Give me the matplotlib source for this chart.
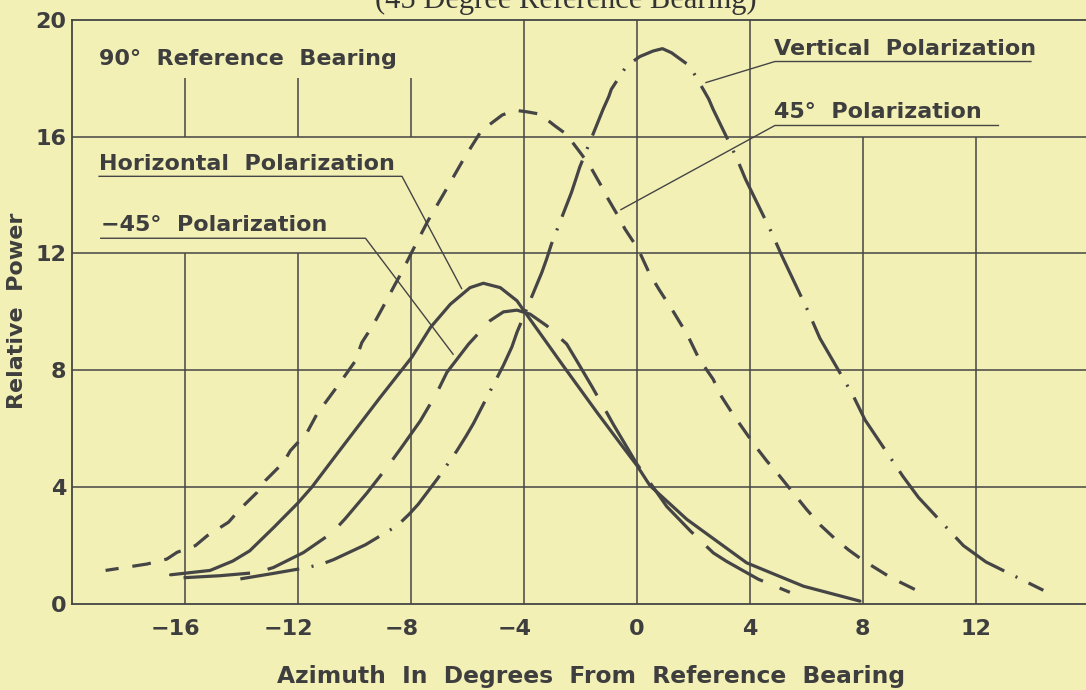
import matplotlib
matplotlib.use("Agg")
import matplotlib.pyplot as plt
import matplotlib.transforms as mtransforms

plt.rcParams["font.family"] = ["DejaVu Sans"]
plt.rcParams["lines.scale_dashes"] = False

# ---- data ----
# Horizontal polarization (solid)
horiz_x = [-16.5, -15.1, -14.3, -13.7, -12.85, -12.0, -11.5, -10.6, -9.1, -7.96,
           -7.3, -6.6, -5.9, -5.43, -4.83, -4.24, -3.95, -3.3, -2.6, -2.0,
           -1.4, -0.47, 0.0, 0.47, 1.77, 3.89, 5.9, 7.9]
horiz_y = [1.0, 1.15, 1.47, 1.82, 2.62, 3.45, 4.0, 5.15, 7.05, 8.45,
           9.47, 10.26, 10.83, 10.98, 10.83, 10.38, 9.98, 9.1, 8.15, 7.35,
           6.55, 5.35, 4.75, 4.05, 2.9, 1.41, 0.61, 0.1]

# -45 deg polarization (long dash)
neg45_x = [-16.04, -14.74, -13.43, -12.86, -11.8, -10.78, -10.32, -9.55, -8.8,
           -8.37, -7.66, -7.07, -6.72, -5.95, -5.19, -4.72, -4.24, -3.77, -3.18,
           -2.48, -2.12, -1.59, -1.06, -0.83, 0.0, 1.06, 1.9, 2.71, 3.18, 4.3, 5.42]
neg45_y = [0.9, 0.97, 1.08, 1.25, 1.76, 2.44, 2.92, 3.8, 4.73,
           5.3, 6.27, 7.24, 7.93, 8.9, 9.7, 10.0, 10.06, 9.92, 9.52,
           8.9, 8.32, 7.45, 6.55, 6.15, 4.8, 3.34, 2.5, 1.75, 1.46, 0.85, 0.4]

# Vertical polarization (dash-dot)
vert_x = [-14.03, -12.85, -11.66, -11.14, -10.73, -9.6, -8.48, -8.05, -7.73, -7.06,
          -6.37, -6.04, -5.78, -4.72, -4.42, -4.24, -3.36, -3.19, -3.02, -2.31,
          -2.17, -2.02, -1.19, -0.99, -0.9, -0.36, 0.11, 0.58, 0.91, 1.23, 1.87,
          2.35, 2.55, 2.7, 3.53, 3.85, 4.77, 5.14, 6.06, 6.48, 7.65, 8.08, 9.42,
          9.97, 11.56, 12.36, 14.39]
vert_y = [0.86, 1.05, 1.25, 1.37, 1.52, 2.03, 2.68, 3.08, 3.42, 4.28,
          5.24, 5.75, 6.18, 8.17, 8.8, 9.3, 11.35, 11.81, 12.32, 14.09,
          14.5, 14.95, 16.94, 17.37, 17.62, 18.42, 18.74, 18.93, 19.01, 18.87, 18.42,
          17.62, 17.28, 16.94, 15.28, 14.54, 12.72, 11.91, 10.03, 9.1, 7.15, 6.3, 4.37,
          3.65, 2.0, 1.44, 0.47]

# 45 deg polarization (dashed)
pos45_x = [-18.8, -17.86, -17.33, -16.63, -16.27, -15.62, -15.2, -14.45, -14.03,
           -13.44, -13.15, -12.5, -12.26, -11.67, -11.32, -10.5, -9.96, -9.73,
           -9.32, -9.02, -8.55, -8.31, -7.96, -7.4, -6.72, -6.11, -5.5, -4.76,
           -4.3, -3.9, -3.43, -2.9, -2.49, -1.96, -1.66, -1.19, -1.01, -0.6, -0.42,
           0.05, 0.46, 0.8, 1.3, 1.8, 2.2, 2.7, 3.0, 3.4, 3.8, 4.2, 4.6, 5.0, 5.5,
           6.0, 6.5, 7.0, 7.5, 8.0, 8.5, 9.0, 9.84]
pos45_y = [1.15, 1.29, 1.37, 1.54, 1.77, 2.0, 2.34, 2.8, 3.26,
           3.82, 4.22, 4.85, 5.25, 5.87, 6.5, 7.58, 8.32, 8.95,
           9.57, 10.1, 10.95, 11.37, 12.05, 13.1, 14.23, 15.26, 16.2, 16.74,
           16.9, 16.85, 16.77, 16.37, 16.08, 15.4, 15.0, 14.2, 13.86, 13.18, 12.84,
           12.15, 11.29, 10.75, 10.0, 9.2, 8.4, 7.7, 7.1, 6.5, 5.95, 5.4, 4.9, 4.45,
           3.85, 3.25, 2.7, 2.25, 1.85, 1.5, 1.2, 0.9, 0.5]

x_ticks = [-16, -12, -8, -4, 0, 4, 8, 12]
x_tick_labels = ["\u221216", "\u221212", "\u22128", "\u22124", "0", "4", "8", "12"]
y_ticks = [0, 4, 8, 12, 16, 20]
y_tick_labels = ["0", "4", "8", "12", "16", "20"]

# labels: (text, x, baseline y, underline x-range, underline y, leader end)
labels = [
    ("Horizontal  Polarization", -19.03, 14.86, (-19.03, -8.31), 14.64, (-6.2, 10.8)),
    ("\u221245\u00b0  Polarization", -18.97, 12.76, (-18.97, -9.6), 12.52, (-6.5, 8.55)),
    ("Vertical  Polarization", 4.85, 18.8, (13.95, 4.89), 18.57, (2.45, 17.85)),
    ("45\u00b0  Polarization", 4.85, 16.62, (12.8, 4.89), 16.38, (-0.56, 13.5)),
]

BG = "#f3f0b6"
INK = "#454545"
TXT = "#3e3e3e"

fig = plt.figure(figsize=(10.86, 6.90), dpi=100)
fig.patch.set_facecolor(BG)
ax = fig.add_axes([0.066, 0.1246, 0.934, 0.8468])
ax.set_facecolor(BG)
ax.set_xlim(-20, 15.9)
ax.set_ylim(0, 20)

# grid drawn piecewise, like the printed chart
grid_kw = dict(color=INK, lw=1.1, zorder=1)
ax.vlines([-4, 0, 4], 0, 20, **grid_kw)
ax.vlines([-16, -12, -8], 0, 12, **grid_kw)
ax.vlines([-16, -12, -8], 16, 18, **grid_kw)
ax.vlines([8, 12], 0, 16, **grid_kw)
ax.hlines([4, 8, 12, 16], -20, 15.9, **grid_kw)

for side in ["left", "bottom", "top"]:
    ax.spines[side].set_color(INK)
    ax.spines[side].set_linewidth(1.3)
ax.spines["right"].set_visible(False)

# curves
cw = 2.3
ax.plot(horiz_x, horiz_y, color=INK, lw=cw, solid_capstyle="round", zorder=3)
ax.plot(neg45_x, neg45_y, color=INK, lw=cw, linestyle=(0, (48, 13)), zorder=3)
ax.plot(vert_x, vert_y, color=INK, lw=cw, linestyle=(0, (43, 9, 1.5, 9)), zorder=3)
ax.plot(pos45_x, pos45_y, color=INK, lw=cw, linestyle=(4, (13.5, 10)), zorder=3)

# annotations with underline and leader lines
for text, tx, ty, (ux0, ux1), uy, (lx, ly) in labels:
    ax.text(tx, ty, text, fontsize=16, fontweight="bold", color=TXT,
            ha="left", va="baseline", zorder=4)
    ax.plot([ux0, ux1, lx], [uy, uy, ly], color=INK, lw=1.0, zorder=2)

ax.text(-19.03, 18.46, "90\u00b0  Reference  Bearing", fontsize=16, fontweight="bold",
        color=TXT, ha="left", va="baseline", zorder=4)

# ticks
ax.set_xticks(x_ticks)
ax.set_xticklabels(x_tick_labels)
ax.set_yticks(y_ticks)
ax.set_yticklabels(y_tick_labels)
ax.tick_params(axis="both", length=0, labelsize=16, labelcolor=TXT)
ax.tick_params(axis="x", pad=11)
ax.tick_params(axis="y", pad=4)
for lab in ax.get_xticklabels() + ax.get_yticklabels():
    lab.set_fontweight("bold")
shift = mtransforms.ScaledTranslation(-0.09, 0, fig.dpi_scale_trans)
for lab, val in zip(ax.get_xticklabels(), x_ticks):
    if val < 0:
        lab.set_transform(lab.get_transform() + shift)

fig.text(591 / 1086, 7 / 690, "Azimuth  In  Degrees  From  Reference  Bearing",
         fontsize=16.8, fontweight="bold", color=TXT, ha="center", va="baseline")
fig.text(17 / 1086, (690 - 311) / 690, "Relative  Power", rotation=90,
         fontsize=16, fontweight="bold", color=TXT, ha="center", va="center")
fig.text(566 / 1086, (690 - 8) / 690, "(45 Degree Reference Bearing)",
         family="Liberation Serif", fontsize=22, color="#333333",
         ha="center", va="baseline")

fig.savefig("out.png", dpi=100, facecolor=BG)
